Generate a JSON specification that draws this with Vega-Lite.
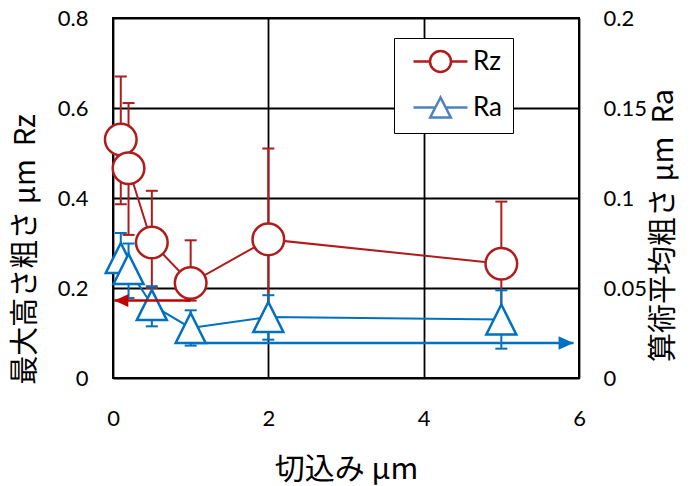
{
  "$schema": "https://vega.github.io/schema/vega-lite/v6.json",
  "width": 466,
  "height": 360,
  "autosize": {"type": "none"},
  "padding": {"left": 113, "top": 18, "right": 117, "bottom": 108},
  "background": "white",
  "datasets": {
    "rz": [
      {"x": 0.1, "val": 0.53, "lo": 0.386, "hi": 0.67, "series": "Rz"},
      {"x": 0.2, "val": 0.466, "lo": 0.318, "hi": 0.611, "series": "Rz"},
      {"x": 0.5, "val": 0.301, "lo": 0.2, "hi": 0.416, "series": "Rz"},
      {"x": 1, "val": 0.211, "lo": 0.172, "hi": 0.306, "series": "Rz"},
      {"x": 2, "val": 0.308, "lo": 0.12, "hi": 0.51, "series": "Rz"},
      {"x": 5, "val": 0.254, "lo": 0.12, "hi": 0.392, "series": "Rz"}
    ],
    "ra": [
      {"x": 0.1, "val": 0.0667, "lo": 0.053, "hi": 0.0806, "series": "Ra"},
      {"x": 0.2, "val": 0.0606, "lo": 0.0444, "hi": 0.0747, "series": "Ra"},
      {"x": 0.5, "val": 0.0406, "lo": 0.0287, "hi": 0.051, "series": "Ra"},
      {"x": 1, "val": 0.0278, "lo": 0.018, "hi": 0.0376, "series": "Ra"},
      {"x": 2, "val": 0.0339, "lo": 0.0213, "hi": 0.046, "series": "Ra"},
      {"x": 5, "val": 0.0325, "lo": 0.0163, "hi": 0.0487, "series": "Ra"}
    ],
    "arrowRz": [{"x": 0.017, "xs": 1, "y": 0.172}],
    "arrowRa": [{"x": 5.93, "xs": 1, "y": 0.0194}]
  },
  "layer": [
    {
      "data": {"name": "rz"},
      "layer": [
        {
          "mark": {"type": "rule", "color": "#B01C1C", "strokeWidth": 2},
          "encoding": {
            "x": {"field": "x", "type": "quantitative", "scale": {"domain": [0, 6], "nice": false, "padding": 0}},
            "y": {"field": "lo", "type": "quantitative", "scale": {"domain": [0, 0.8], "nice": false}, "title": "最大高さ粗さ μm\u00a0\u00a0Rz"},
            "y2": {"field": "hi"}
          }
        },
        {
          "mark": {"type": "tick", "orient": "horizontal", "color": "#B01C1C", "size": 12, "thickness": 2, "opacity": 1},
          "encoding": {
            "x": {"field": "x", "type": "quantitative", "scale": {"domain": [0, 6], "nice": false, "padding": 0}},
            "y": {"field": "hi", "type": "quantitative", "scale": {"domain": [0, 0.8], "nice": false}, "title": "最大高さ粗さ μm\u00a0\u00a0Rz"}
          }
        },
        {
          "mark": {"type": "tick", "orient": "horizontal", "color": "#B01C1C", "size": 12, "thickness": 2, "opacity": 1},
          "encoding": {
            "x": {"field": "x", "type": "quantitative", "scale": {"domain": [0, 6], "nice": false, "padding": 0}},
            "y": {"field": "lo", "type": "quantitative", "scale": {"domain": [0, 0.8], "nice": false}, "title": "最大高さ粗さ μm\u00a0\u00a0Rz"}
          }
        },
        {
          "mark": {"type": "line", "color": "#B01C1C", "strokeWidth": 2},
          "encoding": {
            "x": {"field": "x", "type": "quantitative", "scale": {"domain": [0, 6], "nice": false, "padding": 0}},
            "y": {"field": "val", "type": "quantitative", "scale": {"domain": [0, 0.8], "nice": false}, "title": "最大高さ粗さ μm\u00a0\u00a0Rz"}
          }
        },
        {
          "mark": {"type": "point", "shape": "circle", "filled": true, "fill": "white", "stroke": "#B01C1C", "size": 1000, "strokeWidth": 2.5, "opacity": 1},
          "encoding": {
            "x": {
              "field": "x", "type": "quantitative", "scale": {"domain": [0, 6], "nice": false, "padding": 0},
              "title": "切込み μm",
              "axis": {"values": [0, 2, 4, 6], "format": "~g", "labelFlush": false, "grid": true, "labelPadding": 30, "titleY": 91, "titleFontSize": 30, "titleBaseline": "middle", "titleAlign": "center", "titleX": 233}
            },
            "y": {
              "field": "val", "type": "quantitative", "scale": {"domain": [0, 0.8], "nice": false},
              "title": "最大高さ粗さ μm\u00a0\u00a0Rz",
              "axis": {"values": [0, 0.2, 0.4, 0.6, 0.8], "format": "~g", "labelFlush": false, "grid": true, "labelPadding": 25, "titleX": -88, "titleY": 231, "titleAngle": 270, "titleAlign": "center", "titleBaseline": "middle"}
            }
          }
        },
        {
          "transform": [{"filter": "datum.x < 0"}],
          "mark": {"type": "point", "filled": true, "fill": "white", "size": 576, "strokeWidth": 2.5, "opacity": 1},
          "encoding": {
            "x": {"field": "x", "type": "quantitative", "scale": {"domain": [0, 6], "nice": false, "padding": 0}},
            "y": {"field": "val", "type": "quantitative", "scale": {"domain": [0, 0.8], "nice": false}, "title": "最大高さ粗さ μm\u00a0\u00a0Rz"},
            "stroke": {
              "field": "series", "type": "nominal",
              "scale": {"domain": ["Rz", "Ra"], "range": ["#B01C1C", "#4F81BD"]},
              "legend": {
                "orient": "none", "legendX": 281, "legendY": 20, "title": null,
                "strokeColor": "black", "fillColor": "white",
                "padding": 10, "rowPadding": 15, "symbolSize": 576, "symbolOffset": 23, "labelOffset": 19,
                "labelFont": "Lato", "labelFontSize": 26, "labelColor": "black",
                "symbolStrokeWidth": 2.5, "symbolFillColor": "white"
              }
            },
            "shape": {
              "field": "series", "type": "nominal",
              "scale": {"domain": ["Rz", "Ra"], "range": ["M-2.25,0L-0.875,0M0.875,0L2.25,0M-0.875,0A0.875,0.875,0,1,0,0.875,0A0.875,0.875,0,1,0,-0.875,0", "M-2.25,0L-0.43,0M0.43,0L2.25,0M0,-0.83L-0.86,0.83L0.86,0.83Z"]},
              "legend": {
                "orient": "none", "legendX": 281, "legendY": 20, "title": null,
                "strokeColor": "black", "fillColor": "white",
                "padding": 10, "rowPadding": 15, "symbolSize": 576, "symbolOffset": 23, "labelOffset": 19,
                "labelFont": "Lato", "labelFontSize": 26, "labelColor": "black",
                "symbolStrokeWidth": 2.5, "symbolFillColor": "white"
              }
            }
          }
        }
      ]
    },
    {
      "data": {"name": "ra"},
      "layer": [
        {
          "mark": {"type": "rule", "color": "#0070C0", "strokeWidth": 2},
          "encoding": {
            "x": {"field": "x", "type": "quantitative", "scale": {"domain": [0, 6], "nice": false, "padding": 0}},
            "y": {"field": "lo", "type": "quantitative", "scale": {"domain": [0, 0.2], "nice": false}, "title": "算術平均粗さ μm\u00a0\u00a0Ra"},
            "y2": {"field": "hi"}
          }
        },
        {
          "mark": {"type": "tick", "orient": "horizontal", "color": "#0070C0", "size": 12, "thickness": 2, "opacity": 1},
          "encoding": {
            "x": {"field": "x", "type": "quantitative", "scale": {"domain": [0, 6], "nice": false, "padding": 0}},
            "y": {"field": "hi", "type": "quantitative", "scale": {"domain": [0, 0.2], "nice": false}, "title": "算術平均粗さ μm\u00a0\u00a0Ra"}
          }
        },
        {
          "mark": {"type": "tick", "orient": "horizontal", "color": "#0070C0", "size": 12, "thickness": 2, "opacity": 1},
          "encoding": {
            "x": {"field": "x", "type": "quantitative", "scale": {"domain": [0, 6], "nice": false, "padding": 0}},
            "y": {"field": "lo", "type": "quantitative", "scale": {"domain": [0, 0.2], "nice": false}, "title": "算術平均粗さ μm\u00a0\u00a0Ra"}
          }
        },
        {
          "mark": {"type": "line", "color": "#0070C0", "strokeWidth": 2},
          "encoding": {
            "x": {"field": "x", "type": "quantitative", "scale": {"domain": [0, 6], "nice": false, "padding": 0}},
            "y": {"field": "val", "type": "quantitative", "scale": {"domain": [0, 0.2], "nice": false}, "title": "算術平均粗さ μm\u00a0\u00a0Ra"}
          }
        },
        {
          "data": {"name": "arrowRa"},
          "mark": {"type": "rule", "color": "#0070C0", "strokeWidth": 2.5},
          "encoding": {
            "x": {"field": "x", "type": "quantitative", "scale": {"domain": [0, 6], "nice": false, "padding": 0}},
            "x2": {"field": "xs"},
            "y": {"field": "y", "type": "quantitative", "scale": {"domain": [0, 0.2], "nice": false}, "title": "算術平均粗さ μm\u00a0\u00a0Ra"}
          }
        },
        {
          "data": {"name": "arrowRa"},
          "mark": {"type": "point", "shape": "M0,0L-1,-0.45L-1,0.45Z", "filled": true, "color": "#0070C0", "size": 900, "opacity": 1, "strokeWidth": 0},
          "encoding": {
            "x": {"field": "x", "type": "quantitative", "scale": {"domain": [0, 6], "nice": false, "padding": 0}},
            "y": {"field": "y", "type": "quantitative", "scale": {"domain": [0, 0.2], "nice": false}, "title": "算術平均粗さ μm\u00a0\u00a0Ra"}
          }
        },
        {
          "mark": {"type": "point", "shape": "M0,-1L-1,1L1,1Z", "filled": true, "fill": "white", "stroke": "#0070C0", "size": 900, "strokeWidth": 2.5, "opacity": 1},
          "encoding": {
            "x": {"field": "x", "type": "quantitative", "scale": {"domain": [0, 6], "nice": false, "padding": 0}},
            "y": {
              "field": "val", "type": "quantitative", "scale": {"domain": [0, 0.2], "nice": false},
              "title": "算術平均粗さ μm\u00a0\u00a0Ra",
              "axis": {"orient": "right", "values": [0, 0.05, 0.1, 0.15, 0.2], "format": "~g", "labelFlush": false, "grid": false, "labelPadding": 24, "titleX": 84, "titleY": 207, "titleAngle": 270, "titleAlign": "center", "titleBaseline": "middle"}
            }
          }
        }
      ]
    },
    {
      "data": {"name": "arrowRz"},
      "layer": [
        {
          "mark": {"type": "rule", "color": "#C00000", "strokeWidth": 2.5},
          "encoding": {
            "x": {"field": "x", "type": "quantitative", "scale": {"domain": [0, 6], "nice": false, "padding": 0}},
            "x2": {"field": "xs"},
            "y": {"field": "y", "type": "quantitative", "scale": {"domain": [0, 0.8], "nice": false}, "axis": null}
          }
        },
        {
          "mark": {"type": "point", "shape": "M0,0L1,-0.45L1,0.45Z", "filled": true, "color": "#C00000", "size": 784, "opacity": 1, "strokeWidth": 0},
          "encoding": {
            "x": {"field": "x", "type": "quantitative", "scale": {"domain": [0, 6], "nice": false, "padding": 0}},
            "y": {"field": "y", "type": "quantitative", "scale": {"domain": [0, 0.8], "nice": false}, "axis": null}
          }
        }
      ]
    }
  ],
  "resolve": {"scale": {"y": "independent"}},
  "config": {
    "view": {"stroke": "black", "strokeWidth": 2},
    "axis": {
      "domain": false,
      "ticks": false,
      "gridColor": "black",
      "gridWidth": 1.8,
      "gridOpacity": 1,
      "labelFont": "Lato",
      "labelFontSize": 22,
      "labelColor": "black",
      "titleFont": "Noto Sans CJK JP",
      "titleFontSize": 29,
      "titleFontWeight": "normal",
      "titleColor": "black"
    }
  }
}
